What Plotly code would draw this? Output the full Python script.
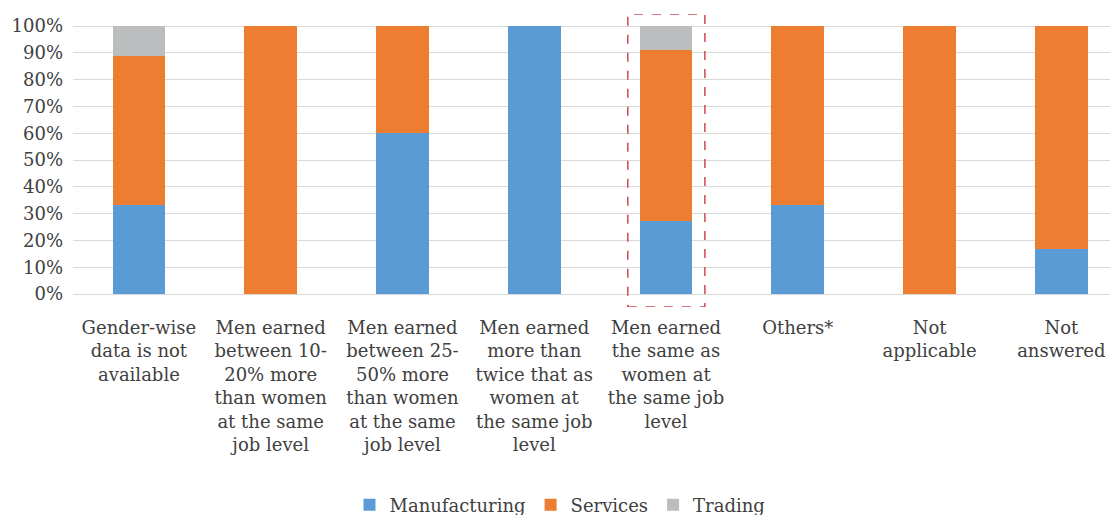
import plotly.graph_objects as go

categories = [
    "Gender-wise<br>data is not<br>available",
    "Men earned<br>between 10-<br>20% more<br>than women<br>at the same<br>job level",
    "Men earned<br>between 25-<br>50% more<br>than women<br>at the same<br>job level",
    "Men earned<br>more than<br>twice that as<br>women at<br>the same job<br>level",
    "Men earned<br>the same as<br>women at<br>the same job<br>level",
    "Others*",
    "Not<br>applicable",
    "Not<br>answered",
]
manufacturing = [33.3, 0, 60.0, 100.0, 27.3, 33.3, 0, 16.7]
services = [55.6, 100.0, 40.0, 0, 63.6, 66.7, 100.0, 83.3]
trading = [11.1, 0, 0, 0, 9.1, 0, 0, 0]
y_ticks = [0, 10, 20, 30, 40, 50, 60, 70, 80, 90, 100]
y_tick_text = [f"{v}%" for v in y_ticks]

FONT = "DejaVu Serif"
TXT = "#404040"

fig = go.Figure()
for name, vals, col in [("Manufacturing", manufacturing, "#5B9BD5"),
                        ("Services", services, "#ED7D31"),
                        ("Trading", trading, "#BCBDBF")]:
    fig.add_trace(go.Bar(x=list(range(len(categories))), y=vals, name=name,
                         marker=dict(color=col, line=dict(width=0)), width=0.4))

fig.add_shape(type="rect", xref="x", yref="y", x0=3.71, x1=4.295, y0=-4.85, y1=104.5,
              line=dict(color="#D0484E", width=1.5, dash="dash"), fillcolor="rgba(0,0,0,0)")

fig.update_layout(
    barmode="stack",
    width=1110, height=507,
    margin=dict(l=65, r=0, t=6, b=208, autoexpand=False),
    paper_bgcolor="white", plot_bgcolor="white",
    font=dict(family=FONT, size=18, color=TXT),
    showlegend=True,
    legend=dict(orientation="h", x=0.466, xanchor="center", y=-0.676, yanchor="middle",
                font=dict(size=18, color=TXT), traceorder="normal"),
    xaxis=dict(tickmode="array", tickvals=list(range(len(categories))), ticktext=categories,
               range=[-0.5, 7.43], showgrid=False, zeroline=False, showline=False,
               tickfont=dict(size=18, color=TXT), ticklabelstandoff=8, automargin=False),
    yaxis=dict(range=[-4.85, 104.5], tickmode="array", tickvals=y_ticks, ticktext=y_tick_text,
               showgrid=True, gridcolor="#D9D9D9", gridwidth=1, zeroline=False,
               showline=False, tickfont=dict(size=18, color=TXT), automargin=False,
               ticklabelstandoff=9),
)

fig.write_html("out.html")
